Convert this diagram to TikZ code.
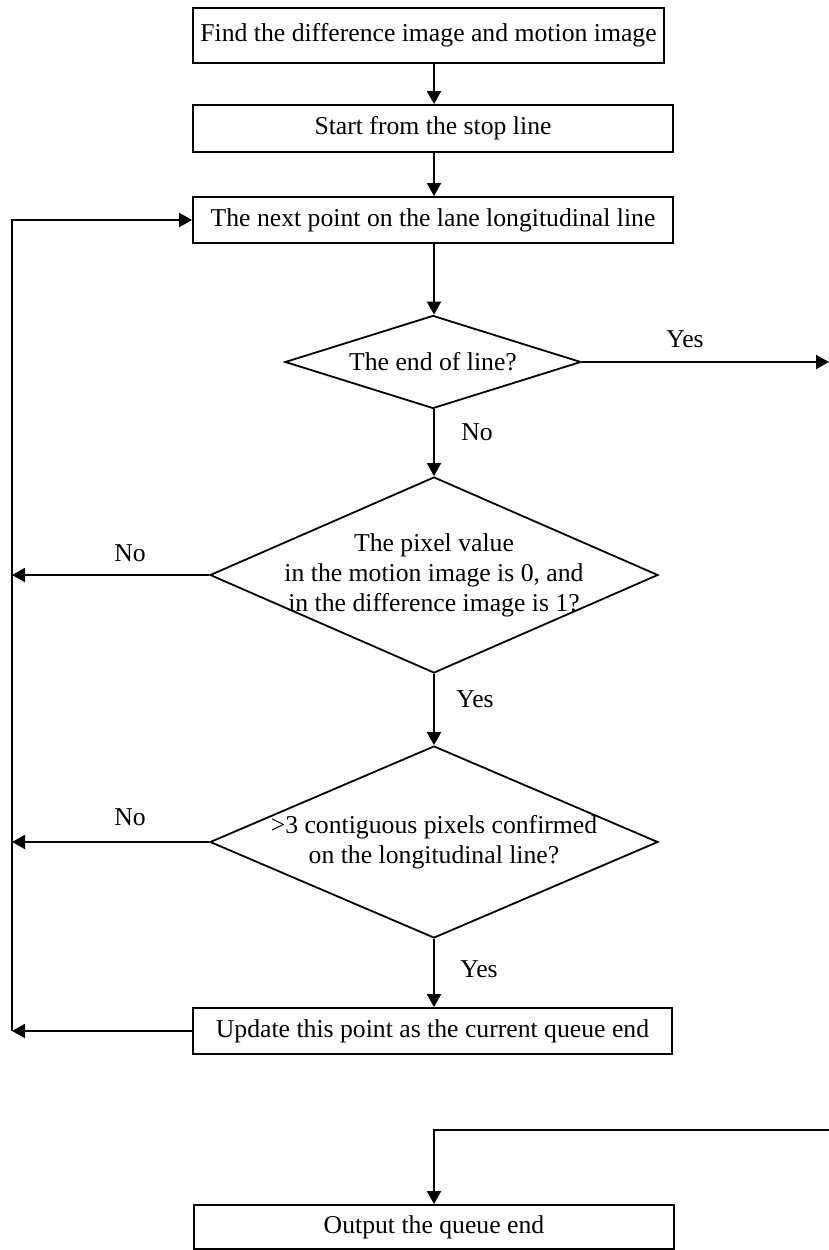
\documentclass[tikz,border=0pt]{standalone}
\usepackage{fontspec}
\setmainfont{Liberation Serif}
\usetikzlibrary{arrows.meta,shapes.geometric}
\begin{document}
\begin{tikzpicture}[x=1pt,y=1pt,
  every node/.style={font=\fontsize{25.7}{30}\selectfont},
  procbox/.style={draw, line width=1.8pt, inner sep=0pt},
  decbox/.style={draw, diamond, line width=1.8pt, inner sep=0pt, aspect=1},
  dectext/.style={align=center, inner sep=0pt},
  lab/.style={inner sep=0pt},
  arr/.style={line width=1.9pt, -{Triangle[length=13pt,width=14pt]}},
  plain/.style={line width=1.9pt}]
\useasboundingbox (0,0) rectangle (829,-1250);
\coordinate (spine) at (434,0);
\coordinate (L) at (12,0);
% boxes
\node[procbox, minimum width=471pt, minimum height=55pt] (b1) at (428.5,-35.5) {Find the difference image and motion image};
\node[procbox, minimum width=480pt, minimum height=47pt] (b2) at (433,-128.5) {Start from the stop line};
\node[procbox, minimum width=480pt, minimum height=46pt] (b3) at (433,-220) {The next point on the lane longitudinal line};
\node[procbox, minimum width=479pt, minimum height=46pt] (b4) at (432.5,-1031) {Update this point as the current queue end};
\node[procbox, minimum width=480pt, minimum height=44pt] (b5) at (434,-1227) {Output the queue end};
% diamonds
\node[decbox, minimum width=296pt, minimum height=93pt] (d1) at (433,-362) {};
\node[dectext] (t1) at (d1.center) {The end of line?};
\node[decbox, minimum width=448pt, minimum height=196pt] (d2) at (434,-575) {};
\node[dectext] (t2) at (d2.center) {The pixel value\\in the motion image is 0, and\\in the difference image is 1?};
\node[decbox, minimum width=448pt, minimum height=192pt] (d3) at (434,-842) {};
\node[dectext] (t3) at (d3.center) {\textgreater3 contiguous pixels confirmed\\on the longitudinal line?};
% right ends
\coordinate (R1) at (829,-362);
\coordinate (R2) at (829,-1130);
% main flow
\draw[arr] (b1.south -| spine) -- (b2.north -| spine);
\draw[arr] (b2.south -| spine) -- (b3.north -| spine);
\draw[arr] (b3.south -| spine) -- (d1.north -| spine);
\draw[arr] (d1.south -| spine) -- (d2.north);
\draw[arr] (d2.south) -- (d3.north);
\draw[arr] (d3.south) -- (b4.north -| spine);
\draw[arr] (d1.east) -- (R1);
\draw[arr] (R2) -| (b5.north -| spine);
% left returns
\draw[arr] (d2.west) -- (d2.west -| L);
\draw[arr] (d3.west) -- (d3.west -| L);
\draw[arr] (b4.west) -- (b4.west -| L);
\draw[arr] (b4.west -| L) |- (b3.west);
% labels
\node[lab] (y1) at (685,-339) {Yes};
\node[lab] (n1) at (477,-432) {No};
\node[lab] (n2) at (130,-553) {No};
\node[lab] (y2) at (475,-699) {Yes};
\node[lab] (n3) at (130,-817) {No};
\node[lab] (y3) at (479,-969) {Yes};
\end{tikzpicture}
\end{document}
